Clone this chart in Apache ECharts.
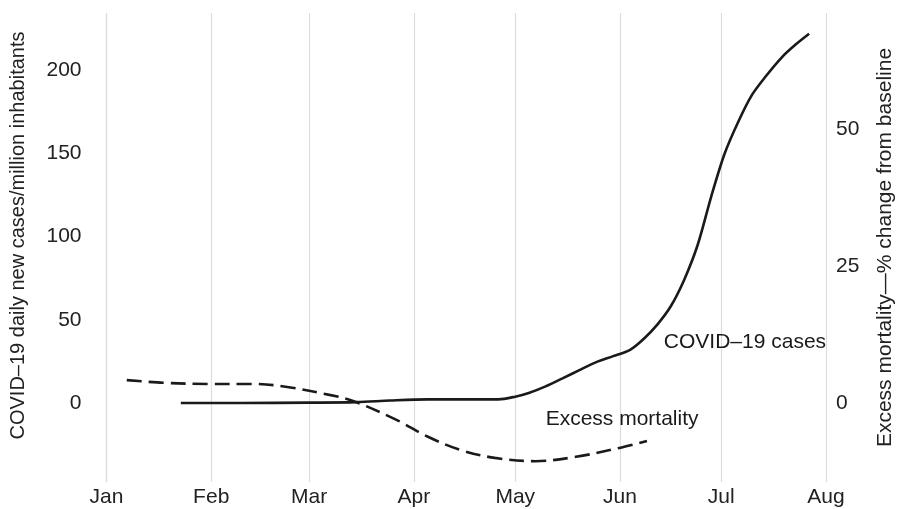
<!DOCTYPE html>
<html>
<head>
<meta charset="utf-8">
<script src="https://cdn.jsdelivr.net/npm/echarts@6/dist/echarts.min.js"></script>
<style>
  html, body { margin: 0; padding: 0; background: #fff; }
  #chart { width: 904px; height: 509px; }
</style>
</head>
<body>
<div id="chart"></div>
<script>
// ---- data ----
const casesDates = ['2020-01-23','2020-02-10','2020-03-01','2020-03-15','2020-03-25','2020-04-05','2020-04-26','2020-05-01','2020-05-05','2020-05-10','2020-05-15','2020-05-20','2020-05-25','2020-05-30','2020-06-04','2020-06-08','2020-06-12','2020-06-16','2020-06-20','2020-06-24','2020-06-28','2020-07-02','2020-07-06','2020-07-10','2020-07-14','2020-07-19','2020-07-23','2020-07-27'];
const casesValues = [0, 0, 0.2, 0.5, 1.5, 2.2, 2.2, 3.8, 6, 10, 14.8, 19.8, 24.6, 28.2, 32, 38.5, 47, 58, 74, 95, 124, 150, 169, 185, 196, 208, 215.5, 222];

const mortalityDates = ['2020-01-07','2020-01-18','2020-01-31','2020-02-13','2020-02-23','2020-03-07','2020-03-14','2020-03-27','2020-04-05','2020-04-15','2020-04-25','2020-05-07','2020-05-19','2020-05-31','2020-06-09'];
const mortalityValues = [4.2, 3.7, 3.5, 3.5, 3.0, 1.5, 0.4, -3.1, -6.1, -8.6, -10.0, -10.6, -9.8, -8.3, -6.9];

const leftTicks = [0, 50, 100, 150, 200];
const rightTicks = [0, 25, 50];

const casesLabel = { text: 'COVID–19 cases', date: '2020-06-14', value: 36.8 };
const mortalityLabel = { text: 'Excess mortality', date: '2020-05-10', value: -3.0 };

const leftTitle = 'COVID–19 daily new cases/million inhabitants';
const rightTitle = 'Excess mortality—% change from baseline';

// ---- chart ----
const FONT = "'Liberation Sans', Arial, Helvetica, sans-serif";
const TXT = '#222';
const chart = echarts.init(document.getElementById('chart'), null, { renderer: 'canvas' });

chart.setOption({
  animation: false,
  backgroundColor: '#fff',
  grid: { left: 106.5, right: 71, top: 13, bottom: 27, containLabel: false },
  xAxis: {
    type: 'time',
    min: '2020-01-01',
    max: '2020-08-01',
    splitNumber: 7,
    minInterval: 28 * 24 * 3600 * 1000,
    axisLine: { show: false },
    axisTick: { show: false },
    splitLine: { show: true, lineStyle: { color: '#dcdcdc', width: 1.2 } },
    axisLabel: {
      formatter: '{MMM}',
      color: TXT, fontSize: 21, fontFamily: FONT, margin: 5,
      showMinLabel: true, showMaxLabel: true
    }
  },
  yAxis: [
    {
      type: 'value',
      position: 'left',
      min: -47.5, max: 234.5,
      axisLine: { show: false }, axisTick: { show: false },
      splitLine: { show: false },
      axisLabel: { customValues: leftTicks, color: TXT, fontSize: 21, fontFamily: FONT, margin: 25 },
      name: leftTitle,
      nameLocation: 'middle', nameGap: 78, nameRotate: 90,
      nameTextStyle: { color: TXT, fontSize: 20, fontFamily: FONT, padding: [0, 0, 0, 24] }
    },
    {
      type: 'value',
      position: 'right',
      min: -14.4, max: 71.2,
      alignTicks: false,
      axisLine: { show: false }, axisTick: { show: false },
      splitLine: { show: false },
      axisLabel: { customValues: rightTicks, color: TXT, fontSize: 21, fontFamily: FONT, margin: 10 },
      name: rightTitle,
      nameLocation: 'middle', nameGap: 49, nameRotate: 90,
      nameTextStyle: { color: TXT, fontSize: 21, fontFamily: FONT }
    }
  ],
  series: [
    {
      name: 'COVID-19 cases',
      type: 'line',
      yAxisIndex: 0,
      data: casesDates.map((d, i) => [d, casesValues[i]]),
      smooth: 0.3,
      showSymbol: false,
      lineStyle: { color: '#1a1a1a', width: 2.6 }
    },
    {
      name: 'Excess mortality',
      type: 'line',
      yAxisIndex: 1,
      data: mortalityDates.map((d, i) => [d, mortalityValues[i]]),
      smooth: 0.35,
      showSymbol: false,
      lineStyle: { color: '#1a1a1a', width: 2.6, type: [15, 7] }
    },
    {
      type: 'scatter',
      yAxisIndex: 0,
      symbolSize: 0,
      silent: true,
      itemStyle: { opacity: 1, color: 'transparent' },
      data: [[casesLabel.date, casesLabel.value]],
      label: { show: true, position: 'right', distance: 0, formatter: casesLabel.text, color: '#1a1a1a', opacity: 1, fontSize: 21, fontFamily: FONT }
    },
    {
      type: 'scatter',
      yAxisIndex: 1,
      symbolSize: 0,
      silent: true,
      itemStyle: { opacity: 1, color: 'transparent' },
      data: [[mortalityLabel.date, mortalityLabel.value]],
      label: { show: true, position: 'right', distance: 0, formatter: mortalityLabel.text, color: '#1a1a1a', opacity: 1, fontSize: 21, fontFamily: FONT }
    }
  ]
});
</script>
</body>
</html>
